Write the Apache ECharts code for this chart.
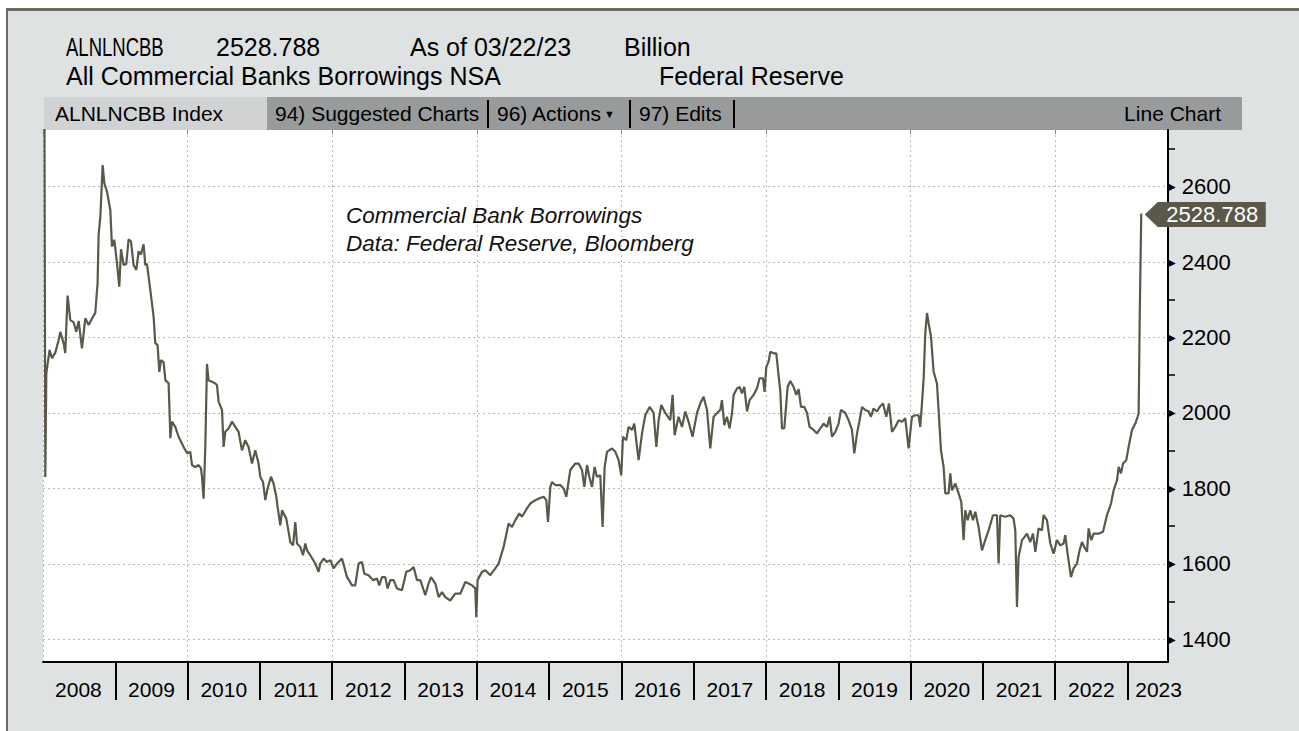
<!DOCTYPE html>
<html>
<head>
<meta charset="utf-8">
<script src="https://cdn.jsdelivr.net/npm/echarts@6/dist/echarts.min.js"></script>
<style>
html,body{margin:0;padding:0;background:#fff;width:1299px;height:731px;overflow:hidden;}
#frame{position:absolute;left:6px;top:8px;width:1310px;height:740px;border-top:3px solid #6b6b60;border-left:2px solid #6b6b60;background:#dfe2e3;}
.t{position:absolute;white-space:nowrap;font-family:"Liberation Sans",Arial,sans-serif;color:#000;line-height:1;}
.h{font-size:25px;}
.narrow{transform:scaleX(0.74);transform-origin:0 50%;}
.bar{position:absolute;top:97px;height:33px;}
.tb{font-size:21px;top:103px;}
.sep{position:absolute;top:100px;width:2px;height:28px;background:#000;}
#chart{position:absolute;left:0;top:0;width:1299px;height:731px;}
</style>
</head>
<body>
<div id="frame"></div>
<div class="t h narrow" style="left:66px;top:35px;">ALNLNCBB</div>
<div class="t h" style="left:216px;top:35px;">2528.788</div>
<div class="t h" style="left:410px;top:35px;">As of 03/22/23</div>
<div class="t h" style="left:624px;top:35px;">Billion</div>
<div class="t h" style="left:66px;top:64px;">All Commercial Banks Borrowings NSA</div>
<div class="t h" style="left:659px;top:64px;">Federal Reserve</div>
<div class="bar" style="left:44px;width:223px;background:#d1d2d4;"></div>
<div class="bar" style="left:267px;width:975px;background:#999a9c;"></div>
<div class="t tb" style="left:55px;">ALNLNCBB Index</div>
<div class="t tb" style="left:275px;">94) Suggested Charts</div>
<div class="sep" style="left:487px;"></div>
<div class="t tb" style="left:497px;">96) Actions<span style="font-size:11px;vertical-align:3px;"> ▼</span></div>
<div class="sep" style="left:629px;"></div>
<div class="t tb" style="left:639px;">97) Edits</div>
<div class="sep" style="left:733px;"></div>
<div class="t tb" style="right:78px;">Line Chart</div>
<div id="chart"></div>
<script>
// ---- data (decimal years, billions USD) ----
const dates = [
2008.020,2008.032,2008.046,2008.091,2008.124,2008.170,2008.216,2008.239,2008.285,2008.308,
2008.340,2008.378,2008.424,2008.461,2008.493,2008.539,2008.585,2008.631,2008.677,2008.723,
2008.755,2008.769,2008.793,2008.825,2008.848,2008.885,2008.931,2008.954,2008.986,2009.023,
2009.055,2009.079,2009.115,2009.152,2009.184,2009.217,2009.253,2009.290,2009.322,2009.355,
2009.391,2009.415,2009.438,2009.484,2009.530,2009.553,2009.585,2009.609,2009.632,2009.668,
2009.692,2009.737,2009.751,2009.761,2009.784,2009.830,2009.876,2009.899,2009.945,2009.992,
2010.037,2010.061,2010.107,2010.152,2010.185,2010.199,2010.221,2010.245,2010.268,2010.290,
2010.337,2010.383,2010.406,2010.429,2010.476,2010.498,2010.521,2010.567,2010.614,2010.660,
2010.705,2010.752,2010.797,2010.843,2010.891,2010.936,2010.982,2011.005,2011.043,2011.075,
2011.106,2011.153,2011.189,2011.227,2011.245,2011.282,2011.306,2011.365,2011.397,2011.420,
2011.458,2011.490,2011.513,2011.559,2011.596,2011.628,2011.651,2011.697,2011.766,2011.812,
2011.835,2011.881,2011.928,2011.974,2012.019,2012.066,2012.135,2012.205,2012.274,2012.319,
2012.365,2012.412,2012.444,2012.503,2012.564,2012.620,2012.651,2012.689,2012.734,2012.766,
2012.804,2012.849,2012.896,2012.965,2013.025,2013.080,2013.126,2013.173,2013.219,2013.288,
2013.333,2013.366,2013.426,2013.472,2013.519,2013.564,2013.633,2013.702,2013.772,2013.841,
2013.887,2013.934,2013.979,2013.993,2014.011,2014.072,2014.118,2014.187,2014.256,2014.302,
2014.371,2014.440,2014.487,2014.533,2014.588,2014.625,2014.694,2014.740,2014.809,2014.855,
2014.924,2014.961,2014.985,2015.017,2015.040,2015.086,2015.155,2015.200,2015.238,2015.293,
2015.362,2015.408,2015.455,2015.487,2015.524,2015.556,2015.593,2015.629,2015.662,2015.708,
2015.740,2015.768,2015.801,2015.870,2015.916,2015.961,2015.998,2016.022,2016.067,2016.099,
2016.147,2016.178,2016.238,2016.285,2016.330,2016.390,2016.445,2016.483,2016.515,2016.552,
2016.607,2016.676,2016.708,2016.736,2016.791,2016.838,2016.884,2016.929,2016.984,2017.045,
2017.091,2017.137,2017.184,2017.229,2017.275,2017.344,2017.368,2017.391,2017.423,2017.460,
2017.496,2017.530,2017.552,2017.599,2017.635,2017.668,2017.700,2017.737,2017.773,2017.828,
2017.875,2017.911,2017.958,2017.980,2018.004,2018.036,2018.059,2018.105,2018.142,2018.174,
2018.198,2018.221,2018.253,2018.299,2018.336,2018.382,2018.419,2018.451,2018.484,2018.530,
2018.567,2018.603,2018.658,2018.705,2018.751,2018.797,2018.844,2018.880,2018.913,2018.959,
2019.004,2019.037,2019.097,2019.142,2019.189,2019.221,2019.259,2019.295,2019.328,2019.373,
2019.419,2019.452,2019.488,2019.535,2019.571,2019.618,2019.664,2019.701,2019.743,2019.788,
2019.834,2019.881,2019.926,2019.972,2020.019,2020.065,2020.110,2020.133,2020.157,2020.180,
2020.203,2020.227,2020.249,2020.282,2020.318,2020.364,2020.387,2020.420,2020.456,2020.480,
2020.525,2020.549,2020.572,2020.618,2020.664,2020.701,2020.733,2020.756,2020.788,2020.825,
2020.863,2020.895,2020.940,2020.987,2021.032,2021.079,2021.139,2021.195,2021.217,2021.240,
2021.309,2021.378,2021.424,2021.448,2021.471,2021.493,2021.541,2021.610,2021.655,2021.693,
2021.725,2021.770,2021.817,2021.839,2021.886,2021.932,2021.978,2022.024,2022.070,2022.116,
2022.139,2022.171,2022.218,2022.254,2022.301,2022.337,2022.370,2022.402,2022.440,2022.462,
2022.499,2022.531,2022.600,2022.661,2022.716,2022.772,2022.808,2022.855,2022.878,2022.910,
2022.938,2022.983,2023.015,2023.062,2023.108,2023.140,2023.154,2023.170,2023.190
];
const values = [
2800,1830,2105,2167,2145,2160,2193,2215,2185,2159,
2311,2246,2240,2215,2244,2171,2251,2233,2250,2265,
2344,2472,2520,2657,2609,2587,2538,2441,2459,2398,
2335,2434,2392,2395,2460,2455,2392,2379,2428,2420,
2447,2392,2395,2326,2255,2185,2180,2109,2140,2135,
2087,2079,2000,1933,1977,1963,1937,1928,1910,1893,
1897,1862,1857,1862,1853,1831,1773,1910,2130,2087,
2083,2078,2074,2030,2008,1910,1950,1959,1977,1963,
1950,1901,1928,1910,1866,1901,1866,1831,1817,1769,
1800,1831,1813,1778,1751,1702,1742,1720,1685,1658,
1649,1711,1654,1645,1623,1654,1636,1623,1601,1579,
1601,1614,1605,1610,1588,1601,1614,1565,1543,1543,
1601,1605,1574,1570,1557,1561,1543,1565,1565,1535,
1557,1557,1535,1530,1579,1583,1592,1557,1557,1517,
1548,1565,1548,1512,1525,1512,1503,1521,1521,1552,
1548,1543,1535,1459,1557,1579,1583,1570,1588,1601,
1645,1707,1698,1716,1734,1725,1747,1760,1769,1773,
1778,1769,1711,1804,1817,1809,1809,1800,1778,1849,
1866,1866,1849,1804,1862,1831,1804,1857,1831,1835,
1698,1857,1897,1906,1897,1875,1835,1937,1928,1963,
1955,1972,1875,1946,1994,2016,2000,1910,1981,2021,
2000,1981,2048,1941,1990,1963,2004,1977,1937,2000,
2025,2043,2008,1906,1990,2004,2008,2034,1968,1990,
1959,2000,2048,2065,2069,2052,2069,2004,2034,2048,
2065,2092,2092,2056,2122,2136,2162,2158,2158,2100,
2056,1959,1959,2069,2085,2069,2048,2063,2016,2016,
2000,1963,1955,1946,1959,1972,1963,1990,1937,1950,
1972,2008,2000,1981,1955,1893,1946,1981,2016,2008,
2004,1990,2012,2004,2016,2025,1990,2025,1950,1963,
1981,1977,1986,1906,1990,1994,1994,1963,2025,2090,
2211,2265,2238,2202,2110,2078,2008,1901,1857,1787,
1787,1840,1795,1813,1787,1764,1663,1742,1716,1742,
1716,1738,1698,1636,1663,1689,1729,1729,1601,1729,
1725,1729,1720,1689,1486,1618,1663,1680,1658,1680,
1632,1694,1689,1729,1716,1654,1627,1663,1649,1654,
1676,1627,1565,1588,1601,1636,1658,1645,1632,1694,
1663,1680,1680,1685,1729,1760,1795,1822,1857,1840,
1866,1875,1910,1955,1972,1990,2000,2270,2528.788
];
// ---- axis ticks / labels ----
const yearTicks = [2009,2010,2011,2012,2013,2014,2015,2016,2017,2018,2019,2020,2021,2022,2023];
const yearLabelPos = [2008.49,2009.5,2010.5,2011.5,2012.5,2013.5,2014.5,2015.5,2016.5,2017.5,2018.5,2019.5,2020.5,2021.5,2022.5,2023.43];
const gridYears = [2008,2010,2012,2014,2016,2018,2020,2022];
const yTicks = [1400,1600,1800,2000,2200,2400,2600];
const yMinorTicks = [1500,1700,1900,2100,2300,2500,2700];

const FONT = '"Liberation Sans", Arial, sans-serif';
const LINE = '#595849';
const last = dates.length - 1;

const chart = echarts.init(document.getElementById('chart'), null, {renderer: 'svg', width: 1299, height: 731});
chart.setOption({
  animation: false,
  backgroundColor: 'transparent',
  textStyle: {fontFamily: FONT},
  title: {
    text: 'Commercial Bank Borrowings\nData: Federal Reserve, Bloomberg',
    left: 346, top: 201, padding: 0,
    textStyle: {fontStyle: 'italic', fontWeight: 'normal', fontSize: 22.5, lineHeight: 28, color: '#111', fontFamily: FONT}
  },
  grid: {left: 43, right: 131, top: 130, bottom: 69, show: true, backgroundColor: '#fff', borderWidth: 0},
  xAxis: [{
    type: 'value', min: 2008, max: 2023.56, position: 'bottom',
    axisLine: {show: true, onZero: false, lineStyle: {color: '#000', width: 2}},
    axisTick: {show: true, customValues: yearTicks, length: 38, lineStyle: {color: '#000', width: 2}},
    axisLabel: {customValues: yearLabelPos, formatter: v => String(Math.floor(v + 1e-6)), color: '#000', fontSize: 21, margin: 17, fontFamily: FONT},
    splitLine: {show: false}
  }, {
    type: 'value', min: 2008, max: 2023.56, position: 'top',
    axisLine: {show: false},
    axisTick: {show: true, inside: true, length: 4, customValues: gridYears, lineStyle: {color: '#888', width: 1}},
    axisLabel: {show: false},
    splitLine: {show: true, lineStyle: {color: '#b8b8b8', width: 1, type: [2, 3]}}
  }],
  yAxis: [{
    type: 'value', position: 'right', min: 1340, max: 2750,
    axisLine: {show: true, onZero: false, lineStyle: {color: '#000', width: 2}},
    axisTick: {show: false, customValues: yTicks},
    axisLabel: {
      customValues: yTicks, margin: 0, color: '#000',
      formatter: v => '{t|▶}{v| ' + v + '}',
      rich: {t: {fontSize: 10, fontFamily: 'DejaVu Sans', color: '#000'}, v: {fontSize: 22, fontFamily: FONT, color: '#000'}}
    },
    splitLine: {show: true, lineStyle: {color: '#b8b8b8', width: 1, type: [2, 3]}}
  }, {
    type: 'value', position: 'right', min: 1340, max: 2750,
    axisLine: {show: false},
    axisTick: {show: true, customValues: yMinorTicks, length: 7, lineStyle: {color: '#000', width: 1.5}},
    axisLabel: {show: false},
    splitLine: {show: false}
  }],
  series: [{
    type: 'line', xAxisIndex: 0, yAxisIndex: 0, z: 3,
    data: dates.map((d, i) => [d, values[i]]),
    showSymbol: false, symbol: 'none',
    lineStyle: {color: LINE, width: 2.2}
  }, {
    type: 'scatter', xAxisIndex: 0, yAxisIndex: 0, z: 10, clip: false, silent: true,
    data: [[dates[last], values[last]]],
    symbol: 'path://M0,12.5L13,0L121,0L121,25L13,25Z',
    symbolSize: [121, 25], symbolOffset: [64, 1],
    itemStyle: {color: LINE, opacity: 1},
    label: {show: true, position: 'inside', offset: [7, 0], formatter: p => p.value[1].toFixed(3), color: '#fff', fontSize: 22, fontFamily: FONT}
  }]
});
</script>
</body>
</html>
